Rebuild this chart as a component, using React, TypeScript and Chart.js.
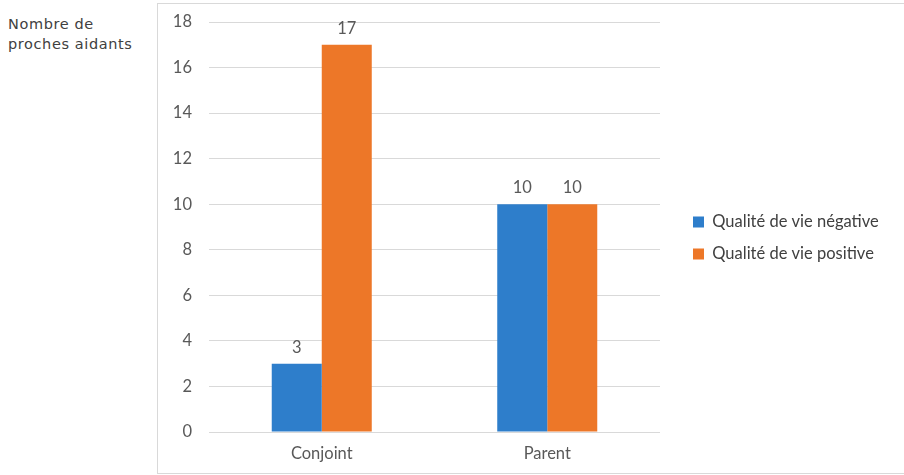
import React, { useEffect, useRef } from "react";
import { Chart, registerables } from "chart.js";

Chart.register(...registerables);

// Categories, series and axis ticks
const categories = ["Conjoint", "Parent"];
const seriesNames = ["Qualité de vie négative", "Qualité de vie positive"];
const negativeValues = [3, 10];
const positiveValues = [17, 10];
const yTicks = [0, 2, 4, 6, 8, 10, 12, 14, 16, 18];
const yTitleLines = ["Nombre de", "proches aidants"];

const BLUE = "#2E7ECB";
const ORANGE = "#ED7728";
const TEXT = "#595959";
const GRID = "#D9D9D9";
const FONT = "Lato, 'Liberation Sans', sans-serif";
const FONT_SIZE = 16.5;
const LEGEND_PAD = 15.5;

// Writes each bar's value just above the bar
const valueLabels = {
  id: "valueLabels",
  afterDatasetsDraw(chart: any) {
    const ctx = chart.ctx;
    ctx.save();
    ctx.font = `${FONT_SIZE}px ${FONT}`;
    ctx.fillStyle = TEXT;
    ctx.textAlign = "center";
    ctx.textBaseline = "bottom";
    chart.data.datasets.forEach((ds: any, di: number) => {
      const meta = chart.getDatasetMeta(di);
      meta.data.forEach((bar: any, i: number) => {
        ctx.fillText(String(ds.data[i]), bar.x, bar.y - 8);
      });
    });
    ctx.restore();
  },
};

// Places the legend block in the right-hand column, a little away from the plot
const legendPlacement = {
  id: "legendPlacement",
  afterLayout(chart: any) {
    const lg = chart.legend;
    if (!lg) return;
    lg.left = 519.5;
    lg.right = chart.width;
    lg.width = lg.right - lg.left;
    lg.top = 0;
    lg.bottom = chart.height;
    lg.height = chart.height;
  },
};

export default function App() {
  const canvasRef = useRef<HTMLCanvasElement | null>(null);

  useEffect(() => {
    if (!canvasRef.current) return;
    const chart = new Chart(canvasRef.current, {
      type: "bar",
      data: {
        labels: categories,
        datasets: [
          {
            label: seriesNames[0],
            data: negativeValues,
            backgroundColor: BLUE,
            borderWidth: 0,
            categoryPercentage: 0.4435,
            barPercentage: 1,
          },
          {
            label: seriesNames[1],
            data: positiveValues,
            backgroundColor: ORANGE,
            borderWidth: 0,
            categoryPercentage: 0.4435,
            barPercentage: 1,
          },
        ],
      },
      options: {
        responsive: false,
        animation: false,
        layout: { padding: { top: 18, bottom: 0, left: 0, right: 184 } },
        scales: {
          x: {
            grid: { display: false, drawTicks: false },
            border: { display: false },
            ticks: { color: TEXT, font: { family: FONT, size: FONT_SIZE }, padding: 12 },
            afterFit(scale: any) {
              scale.height = 40;
            },
          },
          y: {
            min: yTicks[0],
            max: yTicks[yTicks.length - 1],
            afterBuildTicks(scale: any) {
              scale.ticks = yTicks.map((v) => ({ value: v }));
            },
            grid: { color: GRID, lineWidth: 1, drawTicks: false },
            border: { display: false },
            ticks: { color: TEXT, font: { family: FONT, size: FONT_SIZE }, padding: 17 },
            afterFit(scale: any) {
              scale.width = 51;
              scale.paddingTop = 0;
              scale.paddingBottom = 0;
            },
          },
        },
        plugins: {
          legend: {
            position: "right",
            align: "center",
            maxWidth: 60,
            labels: {
              boxWidth: 11,
              boxHeight: 11,
              padding: LEGEND_PAD,
              color: "#404040",
              font: { family: FONT, size: FONT_SIZE },
            },
          },
          tooltip: { enabled: false },
        },
      },
      plugins: [valueLabels, legendPlacement],
    });
    return () => chart.destroy();
  }, []);

  return (
    <div
      style={{
        position: "absolute",
        left: 0,
        top: 0,
        width: 904,
        height: 475,
        overflow: "hidden",
        background: "#fff",
      }}
    >
      <div
        style={{
          position: "absolute",
          left: 8,
          top: 14,
          fontFamily: "'DejaVu Sans', sans-serif",
          fontSize: 14.5,
          letterSpacing: 0.6,
          lineHeight: "20px",
          color: "#404040",
        }}
      >
        {yTitleLines.map((t) => (
          <div key={t}>{t}</div>
        ))}
      </div>
      <div
        style={{
          position: "absolute",
          left: 157,
          top: 3,
          width: 770,
          height: 471,
          boxSizing: "border-box",
          border: `1px solid ${GRID}`,
        }}
      />
      <canvas
        ref={canvasRef}
        width={746}
        height={468}
        style={{ position: "absolute", left: 158, top: 4, width: 746, height: 468 }}
      />
    </div>
  );
}
